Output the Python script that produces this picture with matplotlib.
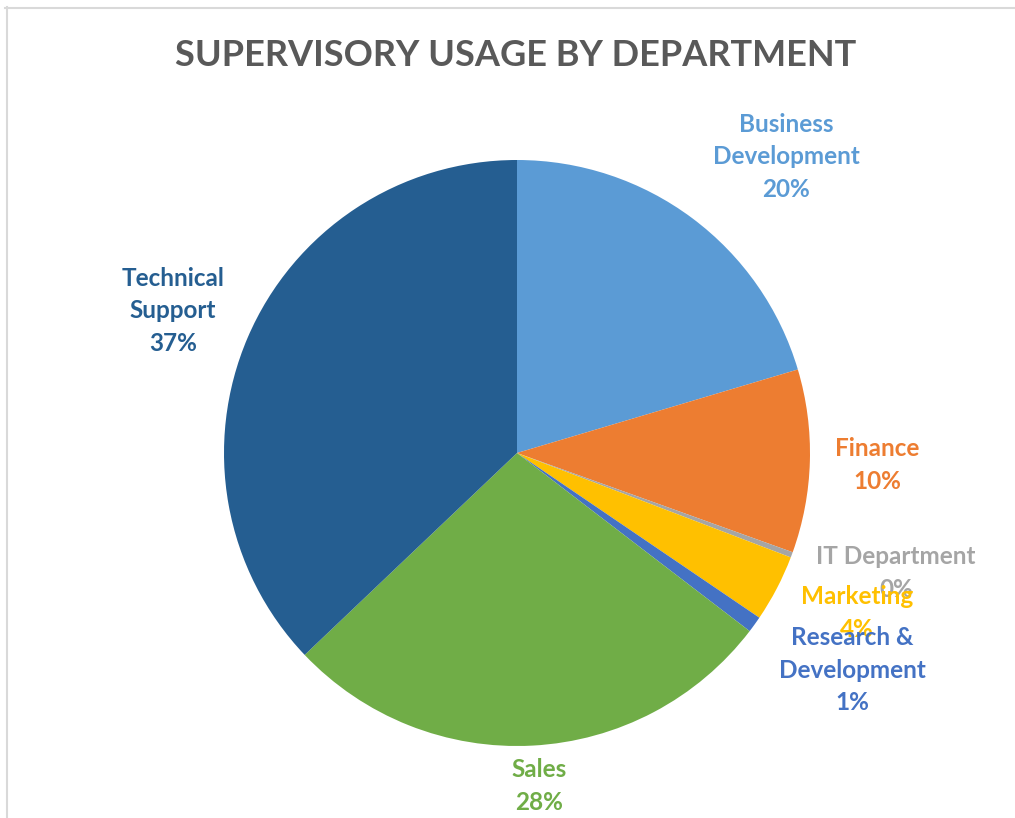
import matplotlib.pyplot as plt
from matplotlib.lines import Line2D

# Department shares (percent).
departments = ['Business\nDevelopment', 'Finance', 'IT Department', 'Marketing',
               'Research &\nDevelopment', 'Sales', 'Technical\nSupport']
shares = [20.4, 10.1, 0.3, 3.7, 0.9, 27.5, 37.1]
colors = ['#5B9BD5', '#ED7D31', '#A5A5A5', '#FFC000', '#4472C4', '#70AD47', '#255E91']

# Label centres in pixel coordinates (from top-left), Excel places these by hand.
label_pos = [(786, 157), (877, 465), (896, 573), (857, 613),
             (852, 670), (539, 786), (173, 311)]

W, H = 1015, 818
plt.rcParams['font.family'] = ['Lato', 'DejaVu Sans']

fig = plt.figure(figsize=(W / 100, H / 100), dpi=100)
ax = fig.add_axes([0, 0, 1, 1])

cx, cy, r = 517, H - 453, 293
ax.pie(shares, colors=colors, startangle=90, counterclock=False,
       center=(cx, cy), radius=r, frame=True,
       wedgeprops=dict(linewidth=0))
ax.set_xlim(0, W)
ax.set_ylim(0, H)
ax.set_aspect('equal')
ax.axis('off')

total = sum(shares)
for name, val, col, (lx, ly) in zip(departments, shares, colors, label_pos):
    ax.text(lx, H - ly, f'{name}\n{round(val / total * 100):.0f}%', color=col,
            fontsize=17.5, fontweight='bold', ha='center', va='center',
            linespacing=1.5)

fig.text(516 / W, 1 - 55 / H, 'SUPERVISORY USAGE BY DEPARTMENT', color='#595959',
         fontsize=26, fontweight='bold', ha='center', va='center')

# light chart-area border (top and left edges visible in the crop)
fig.add_artist(Line2D([5 / W, 1], [1 - 7.5 / H, 1 - 7.5 / H], color='#D9D9D9', lw=1.5))
fig.add_artist(Line2D([6.5 / W, 6.5 / W], [0, 1 - 7 / H], color='#D9D9D9', lw=1.5))

fig.savefig('out.png', dpi=100)
